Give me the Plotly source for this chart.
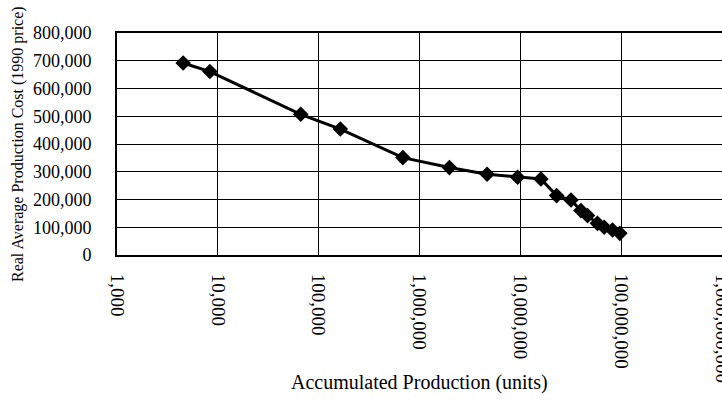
import plotly.graph_objects as go

accumulated_units = [4530, 8340, 66400, 164000, 684000, 1980000, 4680000, 9400000,
                     16000000, 22900000, 31800000, 39900000, 46400000, 58200000,
                     67900000, 82000000, 97000000]
avg_cost = [692000, 661000, 507000, 454000, 351000, 315000, 291000, 280000,
            274000, 214000, 198000, 160000, 142000, 114000, 100000, 90000, 78000]

x_tickvals = [1e3, 1e4, 1e5, 1e6, 1e7, 1e8, 1e9]
x_ticktext = ["1,000", "10,000", "100,000", "1,000,000", "10,000,000",
              "100,000,000", "1,000,000,000"]
y_tickvals = [0, 100000, 200000, 300000, 400000, 500000, 600000, 700000, 800000]
y_ticktext = ["0", "100,000", "200,000", "300,000", "400,000", "500,000",
              "600,000", "700,000", "800,000"]

font_family = "Liberation Serif"

fig = go.Figure(go.Scatter(
    x=accumulated_units, y=avg_cost, mode="lines+markers",
    line=dict(color="black", width=3),
    marker=dict(symbol="diamond", size=12, color="black"),
    showlegend=False,
))

fig.update_layout(
    width=722, height=406,
    margin=dict(l=117, r=0, t=33, b=151),
    paper_bgcolor="white", plot_bgcolor="white",
    font=dict(family=font_family, size=18, color="black"),
    xaxis=dict(
        type="log", range=[3, 9],
        tickvals=x_tickvals, ticktext=x_ticktext, tickangle=90,
        tickfont=dict(family=font_family, size=19),
        showgrid=True, gridcolor="black", gridwidth=1,
        showline=True, linecolor="black", linewidth=2, mirror=True,
        ticks="", ticklabelstandoff=13, automargin=False,
        ticklabeloverflow="allow",
        zeroline=False,
    ),
    yaxis=dict(
        range=[0, 800000],
        tickvals=y_tickvals, ticktext=y_ticktext,
        tickfont=dict(family=font_family, size=18),
        showgrid=True, gridcolor="black", gridwidth=1,
        showline=True, linecolor="black", linewidth=2, mirror=True,
        ticks="", ticklabelstandoff=20, automargin=False,
        ticklabeloverflow="allow",
        zeroline=False,
    ),
    annotations=[
        dict(text="Real Average Production Cost (1990 price)", xref="paper", yref="paper",
             x=0, y=0.5, xshift=-99, xanchor="center", yanchor="middle",
             textangle=-90, showarrow=False,
             font=dict(family=font_family, size=16)),
        dict(text="Accumulated Production (units)", xref="paper", yref="paper",
             x=0.5, y=0, yshift=-127, xanchor="center", yanchor="middle",
             showarrow=False,
             font=dict(family=font_family, size=20)),
    ],
)

fig.write_html("out.html")
